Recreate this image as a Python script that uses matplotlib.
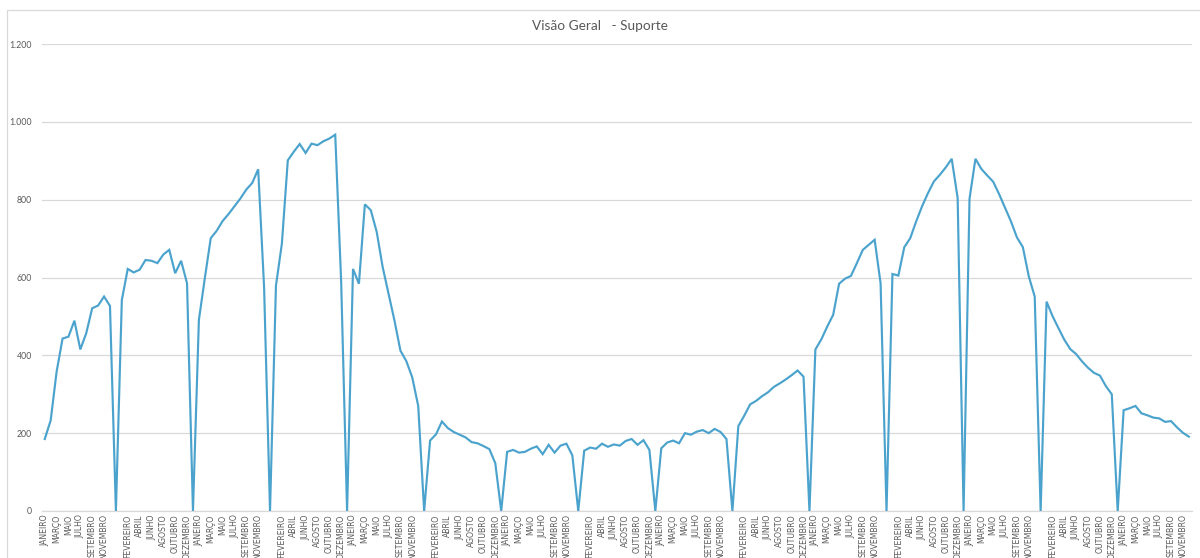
import matplotlib
matplotlib.use("Agg")
import matplotlib.pyplot as plt
from matplotlib.patches import Rectangle

# Month names used on the category axis
meses = ["JANEIRO", "FEVEREIRO", "MARÇO", "ABRIL", "MAIO", "JUNHO",
         "JULHO", "AGOSTO", "SETEMBRO", "OUTUBRO", "NOVEMBRO", "DEZEMBRO"]
n_anos = 15

# Monthly support volume; the 0 after each block of twelve is the year break
suporte = [
    185, 233, 358, 443, 448, 489, 415, 457, 521, 528, 551, 527, 0,
    542, 622, 613, 620, 645, 643, 637, 659, 671, 611, 643, 585, 0,
    491, 598, 701, 720, 745, 763, 783, 803, 826, 843, 878, 575, 0,
    579, 687, 901, 923, 943, 920, 944, 940, 950, 957, 967, 590, 0,
    622, 584, 788, 773, 717, 627, 558, 489, 412, 385, 343, 270, 0,
    181, 197, 230, 213, 203, 196, 189, 177, 174, 167, 159, 123, 0,
    152, 157, 150, 152, 160, 166, 146, 170, 150, 168, 173, 143, 0,
    155, 163, 160, 173, 165, 171, 168, 180, 185, 170, 182, 157, 0,
    161, 176, 181, 174, 200, 196, 204, 208, 200, 211, 203, 185, 0,
    218, 245, 274, 283, 295, 305, 319, 328, 338, 349, 361, 345, 0,
    415, 441, 474, 504, 584, 597, 604, 637, 671, 684, 697, 585, 0,
    609, 605, 678, 701, 744, 783, 817, 847, 864, 883, 905, 804, 0,
    802, 905, 879, 862, 846, 814, 779, 744, 703, 678, 603, 551, 0,
    538, 501, 470, 440, 416, 403, 384, 368, 355, 348, 321, 300, 0,
    259, 264, 270, 251, 246, 240, 238, 229, 231, 215, 201, 191,
]

categorias = []
for a in range(n_anos):
    categorias += meses
    if a < n_anos - 1:
        categorias.append("")

y_ticks = [0, 200, 400, 600, 800, 1000, 1200]
y_labels = ["0", "200", "400", "600", "800", "1.000", "1.200"]

W, H = 1200, 558
fig = plt.figure(figsize=(W / 100, H / 100), dpi=100)
fig.patch.set_facecolor("white")

# light chart-area frame
fig.add_artist(Rectangle((7 / W, -0.1), 1.2, (H - 10) / H + 0.1,
                         transform=fig.transFigure, fill=False,
                         edgecolor="#D9D9D9", linewidth=0.9))

ax = fig.add_axes([41.8 / W, (H - 511) / H, 1150 / W, 467 / H])
ax.set_facecolor("none")

x = list(range(len(suporte)))
ax.plot(x, suporte, color="#4BA3CD", linewidth=1.55, solid_joinstyle="miter",
        zorder=3)

ax.set_xlim(-0.5, len(suporte) - 0.5)
ax.set_ylim(0, 1200)

ax.set_yticks(y_ticks)
ax.set_yticklabels(y_labels)
ax.grid(axis="y", color="#D9D9D9", linewidth=0.9)
ax.set_axisbelow(True)

ticks = list(range(0, len(categorias), 2))
ax.set_xticks(ticks)
ax.set_xticklabels([categorias[i] for i in ticks], rotation=90,
                   va="top", ha="center")

for s in ["top", "right", "left"]:
    ax.spines[s].set_visible(False)
ax.spines["bottom"].set_color("#D9D9D9")
ax.spines["bottom"].set_linewidth(0.9)

ax.tick_params(axis="both", length=0, colors="#595959")
ax.tick_params(axis="x", pad=2.5)
ax.tick_params(axis="y", pad=7)
for lab in ax.get_xticklabels():
    lab.set_fontfamily("Liberation Sans Narrow")
    lab.set_fontsize(5.6)
    lab.set_color("#595959")
for lab in ax.get_yticklabels():
    lab.set_fontfamily("Lato")
    lab.set_fontsize(6.3)
    lab.set_color("#595959")

fig.text(0.5, (H - 26) / H, "Visão Geral   - Suporte", ha="center",
         va="center", fontsize=9.8, color="#595959", family="Lato")

fig.savefig("out.png", dpi=100, facecolor="white")
